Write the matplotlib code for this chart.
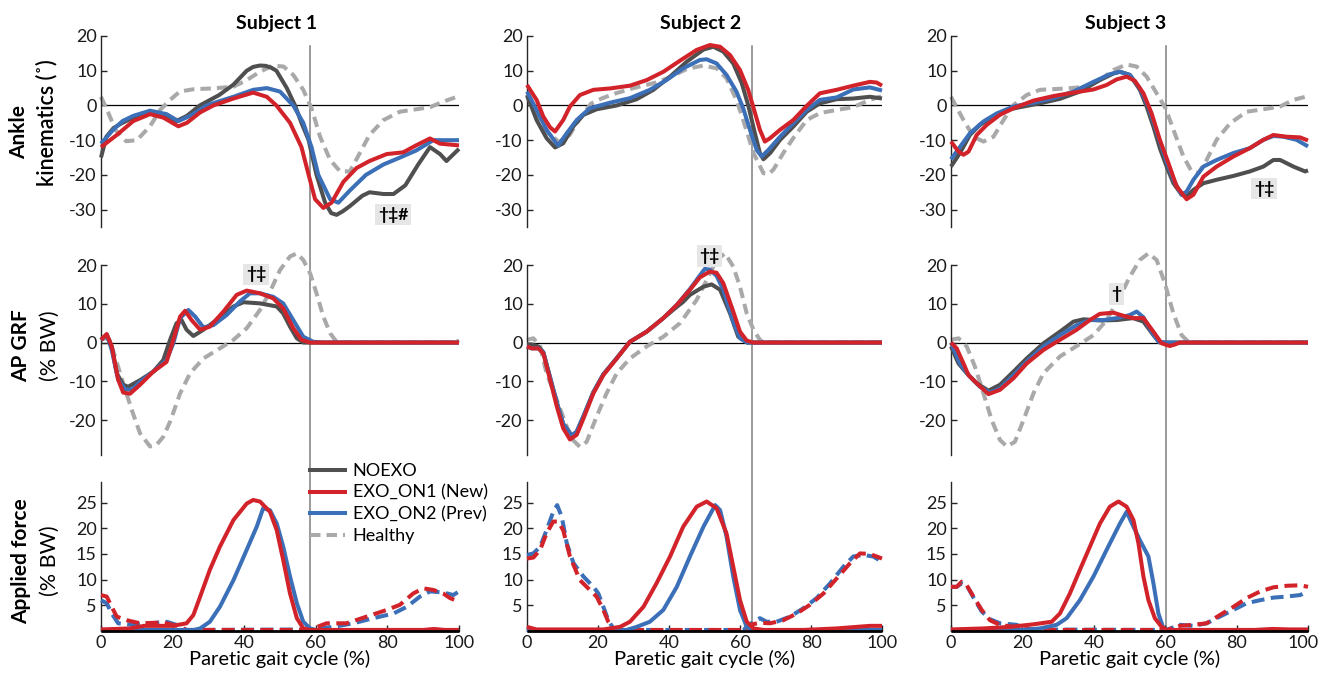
import matplotlib
matplotlib.use("Agg")
import matplotlib.pyplot as plt
from matplotlib.lines import Line2D
import matplotlib.transforms as mtransforms

plt.rcParams['font.family'] = ['Lato', 'DejaVu Sans']
plt.rcParams['axes.unicode_minus'] = False

# ---------------- data ----------------
subjects = ['Subject 1', 'Subject 2', 'Subject 3']
event_pct = [58.5, 63.5, 60.1]          # paretic toe-off (vertical line)
legend_labels = ['NOEXO', 'EXO_ON1 (New)', 'EXO_ON2 (Prev)', 'Healthy']
row_labels_bold = ['Ankle', 'AP GRF', 'Applied force']
row_labels_reg = ['kinematics (˚)', '(% BW)', '(% BW)']
xlabel = 'Paretic gait cycle (%)'
kin_ticks = [-30, -20, -10, 0, 10, 20]
grf_ticks = [-20, -10, 0, 10, 20]
force_ticks = [5, 10, 15, 20, 25]
x_ticks = [0, 20, 40, 60, 80, 100]

# --- Subject 1, ankle kinematics (deg) ---
s1_kin_healthy = [(0, 2.5), (2, -2), (4, -7), (7, -10.3), (10, -10), (13.7, -6), (16.5, -1.3), (19.3, 1.6), (22, 4),
                  (26, 4.7), (31, 4.9), (37, 5.4), (40.7, 7.3), (44.4, 9.7), (48, 11.5), (51, 11.2), (53.7, 8.8),
                  (56.5, 4.5), (58.8, -0.8), (61.2, -9), (64, -15.7), (66.8, -19), (69.5, -19), (72.3, -13.7),
                  (75, -8.5), (78.9, -4.2), (83.5, -1.8), (88, -1.1), (91.9, -0.5), (95.6, 1.1), (100, 2.7)]
s1_kin_noexo = [(0, -15), (1.5, -9), (3.5, -6.5), (6, -5), (9, -3.5), (13.7, -2), (18.3, -3), (21, -4.5), (24, -3),
                (27.6, 0), (33, 3), (37, 6), (40.7, 10), (42.5, 11.1), (44.4, 11.5), (46, 11.4), (47.5, 10.9),
                (49, 10), (51.9, 5), (54.2, 0), (56, -5), (58, -10), (60.2, -20), (62.6, -28), (64.3, -31),
                (65.8, -31.5), (67.5, -30.5), (69.5, -29), (73, -26), (75, -25), (78.9, -25.5), (81.7, -25.5),
                (85, -23), (88.6, -17), (91.9, -12), (94.7, -14), (96.5, -16), (100, -12.5)]
s1_kin_on2 = [(0, -11), (3.4, -7), (6, -4.5), (9, -3), (13.7, -1.5), (18.3, -2.5), (21.6, -4.5), (24.9, -3),
              (29.5, 0), (33, 1.2), (37, 2.5), (42.5, 4.5), (46.3, 5), (50, 4), (53.7, 0), (56.5, -5), (58.8, -12),
              (60.7, -20), (64, -27), (66.3, -28), (69.5, -24.5), (74, -20), (78.9, -17), (83.5, -15), (88, -13),
              (92.8, -10), (96, -10), (100, -10)]
s1_kin_on1 = [(0, -12), (4.4, -8.5), (9, -4.5), (13.7, -2.5), (17.4, -3.5), (21.6, -6), (24, -5), (27.7, -2),
              (31.4, 0), (37, 2), (42.5, 3.7), (46.3, 2.5), (49, 0), (52.8, -5), (56, -12), (58, -20), (59.8, -27),
              (62.1, -29.5), (64.4, -28), (67.7, -22), (71.4, -18), (75, -16), (79.8, -14), (84.4, -13.5),
              (88, -11.5), (91.9, -9.5), (94.7, -11), (100, -11.5)]

# --- Subject 2, ankle kinematics ---
s2_kin_healthy = [(0, 2.5), (3, -3), (6, -8), (9, -10.5), (12, -8.5), (15, -3.5), (18, 0.5), (21, 2), (25, 3.5),
                  (30, 5), (36, 6.5), (40, 8), (45, 10.5), (49.7, 11.5), (53.4, 10.7), (56.2, 7.8), (59, 1.6),
                  (61, -4.5), (63.8, -13.7), (66.6, -19.5), (68, -19.8), (69.4, -18.5), (72.2, -13.7), (75, -9.4),
                  (78.8, -4.2), (82.5, -2.2), (87.2, -1.3), (91.9, -0.5), (96.6, 1.6), (100, 2.7)]
s2_kin_noexo = [(0, 3), (2.7, -4.2), (5.5, -9.4), (7.9, -12.1), (10.2, -10.9), (13, -6.1), (15.9, -2.7),
                (19.6, -1.1), (25.3, 0), (30.9, 1.8), (35.6, 4.5), (40.3, 8.3), (45, 12.6), (49.7, 16.1),
                (52.5, 16.9), (55.3, 15.5), (58.1, 12.1), (60.5, 6.4), (62.3, 0.1), (64.2, -8), (65.6, -13.7),
                (66.6, -15.5), (68.5, -13.7), (71.3, -9.9), (75, -6.1), (78.8, -1.8), (82.5, 0.6), (87.2, 1.8),
                (91.9, 2), (96.6, 2.5), (100, 2)]
s2_kin_on2 = [(0, 4), (2.7, -1.3), (5.5, -7), (7.9, -10.4), (8.8, -11.5), (11.2, -8), (14, -4.2), (17.7, -0.8),
              (23.4, 0.8), (29, 2.1), (34.6, 4.5), (39.3, 7.3), (44, 10.7), (48.7, 13.1), (50.6, 13.3),
              (53.4, 12.1), (56.2, 8.8), (59, 4), (60.9, -0.8), (62.8, -7), (64.7, -12.8), (66.1, -14.7),
              (68, -12.8), (71.3, -9), (75, -5.1), (78.8, -1.3), (82.5, 1.6), (87.2, 2.3), (91.9, 4.6),
              (96.6, 5.2), (100, 4.3)]
s2_kin_on1 = [(0, 5.9), (2.7, 1.6), (4.6, -3.2), (6.5, -6.3), (7.9, -7.5), (10.2, -4.2), (12.1, -0.3), (14.9, 3),
              (18.7, 4.5), (23.4, 4.9), (29, 5.7), (33.7, 7.3), (38.4, 9.7), (43.1, 12.9), (47.8, 16), (51.5, 17.4),
              (54.4, 16.9), (57.2, 14.5), (60, 10.2), (62.3, 4.5), (63.7, -0.3), (65.6, -7), (67, -10.4),
              (68.5, -9.4), (71.3, -7), (75, -4.2), (78.8, -0.1), (82.5, 3.5), (87.2, 4.5), (91.9, 5.7),
              (96.6, 6.8), (98.5, 6.6), (100, 5.7)]

# --- Subject 3, ankle kinematics ---
s3_kin_healthy = [(0, 2.5), (3.5, -4.2), (6.3, -9), (9.1, -10.4), (11.9, -9), (14.7, -4.2), (17.5, 0.1),
                  (21.2, 3), (24.9, 4.5), (32.4, 4.9), (38, 5.4), (41.7, 7.3), (45.5, 10.2), (49.2, 11.8), (52, 11.2),
                  (54.8, 8.3), (57.6, 3.5), (60.1, -0.8), (62.3, -7), (65.1, -14.7), (67.4, -19), (69.3, -19.5),
                  (71.6, -15.7), (74.4, -9.9), (78.2, -5.1), (82.8, -1.8), (87.5, -1.1), (92.2, -0.3), (95.9, 1.6),
                  (100, 2.7)]
s3_kin_noexo = [(0, -17.6), (2.5, -13.7), (5.3, -8.5), (8.1, -5.6), (11.9, -3.2), (15.6, -1.3), (19.3, -0.5),
                (24.9, 0.6), (30.5, 1.9), (36.1, 4), (41.7, 7.3), (45.5, 9.2), (47.3, 9.7), (50.1, 8.8), (52.9, 4.5),
                (54.8, -0.3), (56.7, -6.1), (58.5, -12.3), (60.4, -17.6), (62.3, -22.4), (64.6, -25.7), (66, -26.2),
                (67.9, -24.3), (70.7, -22.4), (74.4, -21.4), (79.1, -20.3), (83.7, -19), (87.5, -17.6),
                (90.3, -15.7), (92.2, -15.7), (95.9, -17.6), (99.2, -19), (100, -18.7)]
s3_kin_on2 = [(0, -15.5), (5.3, -8), (9.1, -4.6), (12.8, -2.3), (17.5, -0.3), (23.1, 0.8), (28.7, 2.1), (34.3, 4),
              (39.9, 6.8), (44.5, 9), (47.3, 9.7), (50.1, 8.8), (52.9, 4.9), (55.3, -0.3), (57.6, -7.5),
              (59.9, -14.7), (62.3, -21.4), (64.6, -25.7), (66, -24.8), (67.9, -21.4), (70.7, -17.6), (74.4, -15.7),
              (79.1, -13.7), (83.7, -12.3), (87.5, -9.9), (90.3, -8.8), (93.1, -9), (96.8, -9.9), (100, -11.8)]
s3_kin_on1 = [(0, -10.4), (2.1, -13.3), (3.5, -14.2), (4.9, -13.3), (7.2, -8.5), (10, -5.6), (13.7, -2.7),
              (17.5, -0.8), (23.1, 1.4), (28.7, 2.7), (34.3, 3.7), (39.9, 4.6), (43.6, 5.9), (46.4, 7.5),
              (49.2, 8.3), (51.5, 7.1), (53.9, 3.5), (56.2, -2.3), (58.5, -9.9), (60.9, -16.6), (63.2, -23.3),
              (66, -27), (67.9, -25.7), (70.7, -20.5), (74.4, -17.6), (79.1, -14.7), (83.7, -12.3), (87.5, -9.9),
              (90.3, -8.5), (94, -9), (97.8, -9.2), (100, -10.1)]

# --- Subject 1, AP GRF (% BW) ---
s1_grf_healthy = [(0, 0.7), (1.6, 1.2), (2.5, 0.5), (3.9, -3.6), (6.2, -10.5), (8.6, -17.4), (10.9, -23.4),
                  (13.7, -26.8), (15.5, -26.4), (17.4, -24.3), (19.3, -20.4), (22.1, -13.1), (24.9, -7.9),
                  (28.6, -4.1), (33.2, -1.5), (37, 0.7), (40.7, 3.7), (44.4, 8.4), (47.2, 13.1), (50, 18.7),
                  (52.8, 22.2), (54.7, 23), (56.5, 21.3), (58.4, 17.9), (60.2, 12.7), (62.1, 6.7), (64, 2.4),
                  (65.8, 0.2), (67.7, 0), (99, 0), (100, 0.6)]
s1_grf_noexo = [(0, 0.7), (1.6, 2), (3, -1), (4.4, -7.9), (6.2, -10.9), (7.6, -11.4), (10.9, -9.7), (14.6, -7.5),
                (17.4, -4.5), (19.3, 0.7), (21.1, 5), (22.5, 5.8), (23.9, 3.3), (25.8, 1.7), (28.6, 3.3),
                (32.3, 5.8), (37, 9.3), (39.8, 10.4), (44.4, 10.1), (49.1, 9.3), (50.9, 7.5), (52.8, 4.1),
                (54.7, 1.1), (56.5, 0), (100, 0)]
s1_grf_on2 = [(0, 0.7), (1.6, 2), (3, -1.9), (4.8, -9.6), (6.7, -12), (8.6, -12.2), (10.9, -10.1), (14.6, -7.5),
              (18.3, -4.5), (20.2, -0.2), (22.1, 6.3), (24.4, 8.4), (26.3, 6.7), (28.6, 3.9), (31.4, 4.5),
              (35.1, 7.1), (38.8, 10.6), (41.6, 12.7), (44.4, 12.7), (48.1, 11.8), (50.9, 10.1), (53.7, 5.8),
              (56.5, 1.5), (59.3, 0.2), (62.1, 0), (100, 0)]
s1_grf_on1 = [(0, 0.7), (1.6, 2.2), (3, -1), (4.8, -9.6), (6.2, -12.9), (8.1, -13.2), (10.9, -10.9), (14.6, -7.5),
              (18.3, -5), (20.2, 0.7), (22.1, 6.7), (23.5, 8.2), (25.3, 5.8), (27.7, 3.3), (30.4, 4.1), (34.2, 8),
              (37.9, 12.3), (40.7, 13.4), (44.4, 12.7), (48.1, 11.4), (50.9, 8.8), (53.7, 3.7), (56, 0.7),
              (58.4, 0), (100, 0)]

# --- Subject 2, AP GRF ---
s2_grf_healthy = [(0, 0.7), (1.8, 1.1), (3.7, -1), (5.5, -7.9), (8.4, -14.8), (11.2, -21.7), (13, -25.2),
                  (14.9, -26.9), (16.8, -25.6), (19.6, -19.1), (22.4, -13.1), (25.3, -7.9), (29, -4.1),
                  (33.7, -1), (38.4, 1.5), (43.1, 5), (47.8, 11), (50.6, 16.1), (53.4, 21.3), (55.8, 23),
                  (58.1, 19.6), (60, 14.4), (61.9, 7.5), (63.8, 3.3), (65.6, 0.7), (66.6, 0), (99, 0), (100, 0.6)]
s2_grf_noexo = [(0, -0.5), (1.3, -0.5), (3.2, -1), (4.6, -2.5), (6.5, -9), (8.4, -15.5), (10.2, -21), (12.6, -24),
                (14, -23), (15.9, -19), (18.7, -12.8), (21.5, -8.2), (25.3, -4), (29, 0.2), (33.7, 2.8),
                (38.4, 6.3), (42.2, 9.2), (44, 10.5), (45.9, 12.3), (49.7, 14.4), (52, 15), (54.4, 13.6),
                (57.2, 7.5), (59.5, 1.5), (62, 0), (100, 0)]
s2_grf_on2 = [(0, -1), (1.3, -1.5), (3.2, -1.5), (4.6, -2.5), (6.5, -9), (8.4, -15.5), (10.2, -21), (12.6, -24),
              (14, -23), (15.9, -19), (18.7, -12.8), (21.5, -8.2), (25.3, -4), (29, 0.2), (33.7, 2.8), (38.4, 6.3),
              (42.2, 9.7), (45.9, 13.8), (48.7, 17.3), (50.1, 19), (51.5, 18.8), (53.4, 17.2), (55.3, 13.6),
              (58.1, 5.4), (60, 1.1), (62, 0), (100, 0)]
s2_grf_on1 = [(0, -1), (1.3, -1.5), (3.2, -1.5), (4.6, -2.8), (6.5, -9.6), (8.4, -16.5), (10.2, -22.1),
              (12.1, -25), (14, -23.8), (15.9, -19.6), (18.7, -13.1), (21.5, -8.4), (25.3, -4.1), (29, 0.2),
              (33.7, 2.8), (38.4, 6.3), (42.2, 9.7), (45.9, 13.6), (48.7, 16.8), (51.5, 18.3), (53.4, 18),
              (55.3, 15.3), (58.1, 8), (60, 2.8), (61.9, 0.5), (63.8, 0), (100, 0)]

# --- Subject 3, AP GRF ---
s3_grf_healthy = [(0, 0.7), (2.1, 1.1), (4.4, -1), (6.7, -6.2), (9.1, -13.1), (11.4, -20), (13.7, -25.1),
                  (15.6, -26.8), (17.9, -25.6), (20.3, -20), (23.1, -13.1), (25.9, -7.9), (30.5, -3.6),
                  (35.2, -0.9), (39.9, 1.9), (43.6, 5.8), (47.3, 11.8), (50.1, 17), (52.9, 21.3), (55.3, 23),
                  (57.6, 21.3), (59.9, 15.3), (62.3, 7.5), (64.6, 1.9), (66.5, 0.2), (67.9, 0), (99, 0), (100, 0.6)]
s3_grf_noexo = [(0, -1), (2.1, -5.4), (4.4, -7.9), (7.2, -10.5), (10.5, -12.4), (13.7, -10.9), (17.5, -7.5),
                (21.2, -4.1), (25.9, -0.2), (30.5, 2.8), (34.3, 5.4), (37.1, 6), (41.7, 5.7), (46.4, 5.8),
                (51, 6.3), (53.9, 5.4), (56.7, 1.9), (58.5, 0), (100, 0)]
s3_grf_on2 = [(0, 0), (2.5, -5.4), (5.3, -8.8), (8.1, -11.4), (10.9, -12.9), (13.7, -11.8), (17.5, -8.4),
              (21.2, -4.9), (25.9, -1), (30.5, 1.9), (35.2, 4.5), (38.9, 5.8), (42.7, 5.8), (46.4, 6.3),
              (50.1, 7.1), (52, 8), (53.9, 6.5), (56.2, 2.8), (58.1, 0.2), (60.4, 0), (100, 0)]
s3_grf_on1 = [(0, 0), (1.6, -1.5), (3.5, -5.4), (4.9, -8.4), (7.2, -10.5), (10.5, -13.3), (13.7, -12.2),
              (17.5, -9.2), (21.2, -5.4), (25.9, -1.9), (30.5, 0.7), (35.2, 3.3), (38.9, 5.8), (41.7, 7.4),
              (45.5, 7.7), (48.3, 6.9), (51, 6.3), (53.9, 6.3), (56.7, 2.8), (59, -0.2), (61.3, -0.9),
              (62.7, -0.5), (64.1, 0), (100, 0)]

# --- Applied force (% BW): paretic (solid) and non-paretic (dashed) ---
force_noexo = [(0, 0), (100, 0)]
s1_force_on1 = [(0, 0.3), (8, 0.5), (12, 1), (20, 1), (23.9, 1.5), (25.8, 3.1), (27.7, 6.7), (30.4, 11.9),
                (33.2, 16.4), (37, 21.6), (40.7, 24.8), (42.5, 25.5), (44.4, 25.2), (47.2, 23.2), (49.1, 19.6),
                (50.9, 13.8), (52.8, 7.3), (54.7, 2.5), (56.5, 0.5), (58.4, 0.2), (90, 0.2), (93, 0.4), (96, 0.2),
                (100, 0.2)]
s1_force_on2 = [(0, 0.2), (26, 0.2), (27.7, 0.5), (30.4, 1.8), (33.2, 4.7), (37, 9.9), (40.7, 15.8), (43.5, 20.3),
                (45.3, 23.9), (47.2, 23.5), (49.1, 20.9), (50.9, 16.4), (52.8, 10.6), (54.7, 5.4), (56.5, 1.8),
                (58.4, 0.5), (60, 0.2), (100, 0.2)]
s1_force_on1_np = [(0, 7), (1.6, 6.7), (3, 4.7), (4.4, 2.8), (7.2, 2.1), (10.9, 1.5), (15.5, 1.6), (18.3, 1.5),
                   (21.1, 1), (23.9, 0.2), (58.4, 0.2), (60, 0.7), (63, 1.5), (68.6, 1.5), (74.2, 2.8), (79.8, 4.1),
                   (83.5, 5.1), (87.2, 7.3), (90, 8.3), (92.8, 8), (95.6, 7.3), (97.5, 6.4), (100, 5.7)]
s1_force_on2_np = [(0, 6), (1.6, 5.4), (3, 3.4), (4.8, 1.5), (9, 1.2), (13.7, 1.5), (18.3, 1.8), (21.1, 1.2),
                   (23.9, 0.2), (58.4, 0.3), (64.9, 0.8), (70.5, 1.5), (76.1, 2.5), (81.7, 3.4), (85.4, 4.7),
                   (89.1, 6.7), (91.9, 7.7), (95.6, 7.5), (98.4, 7), (100, 7.7)]

s2_force_on1 = [(0, 0.8), (2.7, 0.3), (21.5, 0.3), (26.2, 0.8), (29, 1.8), (32.8, 4.7), (36.5, 9.3), (40.3, 14.5),
                (44, 20.3), (47.8, 24.2), (50.6, 25.2), (53.4, 23.9), (56.2, 19), (58.1, 12.5), (60, 6), (61.9, 1.8),
                (63.8, 0.5), (66.6, 0.2), (77.8, 0.2), (87.2, 0.5), (96.6, 1), (100, 1)]
s2_force_on2 = [(0, 0.2), (28, 0.2), (30.9, 0.8), (34.6, 1.8), (38.4, 4.1), (42.2, 8.6), (45.9, 14.5),
                (49.7, 20.3), (53, 24.5), (54.4, 23.5), (56.2, 18.4), (58.1, 10.6), (60, 4.1), (61.9, 0.8),
                (63.8, 0.2), (100, 0.2)]
s2_force_on1_np = [(0, 14.1), (1.8, 14.3), (3.7, 15.8), (5.5, 19), (7.4, 21.3), (8.8, 21.3), (10.2, 19.6),
                   (12.1, 14.5), (14.9, 9.9), (17.7, 8), (19.6, 6.7), (21.5, 4.1), (22.9, 1.8), (24.3, 0.5),
                   (26, 0.2), (62, 0.2), (62.8, 1.2), (65.6, 1.6), (68.5, 1.5), (72.2, 2.1), (76, 3.4), (79.7, 5.1),
                   (83.5, 7.3), (87.2, 10.2), (91, 13.2), (93.8, 15.1), (96.6, 15), (100, 14.1)]
s2_force_on2_np = [(0, 14.8), (1.8, 15.1), (3.7, 16.4), (5.5, 19.6), (7.4, 23.2), (8.5, 24.5), (9.8, 22.2),
                   (11.2, 17.1), (13.1, 13.2), (15.9, 10.6), (18.7, 8.6), (20.1, 7.3), (21.5, 4.7), (22.9, 2.1),
                   (24.3, 0.5), (26.2, 0.2), (61, 0.2), (61.9, 0.8), (63.8, 1.8), (65.6, 2.5), (67.5, 1.8),
                   (70.3, 1.8), (74.1, 2.8), (77.8, 4.4), (81.6, 6.4), (85.4, 9.3), (89.1, 12.5), (91.9, 14.5),
                   (94.7, 14.8), (97.5, 14.5), (100, 13.5)]

s3_force_on1 = [(0, 0.3), (9.1, 0.5), (16.5, 0.8), (23.1, 1.3), (28.2, 1.8), (30.5, 3.4), (33.3, 7.3),
                (36.1, 11.9), (38.9, 16.4), (41.7, 20.9), (44.5, 24.2), (46.9, 25.2), (49.2, 24.2), (51.1, 21.6),
                (52.5, 17.1), (53.9, 10.6), (55.3, 6), (57.1, 2.5), (59, 0.8), (60.4, 0.2), (85, 0.2), (90, 0.4),
                (95, 0.3), (100, 0.3)]
s3_force_on2 = [(0, 0.2), (20, 0.2), (24.9, 0.5), (29.6, 1.2), (32.4, 2.5), (36.1, 6), (39.9, 10.6), (43.6, 15.8),
                (47.3, 20.9), (49.2, 23.2), (51.1, 20.3), (52.9, 17.7), (55.3, 14.5), (56.7, 9.3), (58.1, 3.4),
                (59.5, 0.5), (60.9, 0.2), (100, 0.2)]
s3_force_on1_np = [(0, 8.6), (1.6, 8.6), (3, 9.6), (4.4, 8.9), (6.3, 6.7), (8.6, 4.1), (10.9, 2.1), (13.7, 1.2),
                   (17.5, 0.8), (21.2, 0.5), (23, 0.2), (60.4, 0.2), (64.1, 1), (67.9, 1.2), (71.6, 1.5),
                   (75.3, 3.1), (79.1, 4.7), (82.8, 6.4), (86.6, 7.7), (90.3, 8.5), (94, 8.8), (97.8, 8.9),
                   (100, 8.6)]
s3_force_on2_np = [(0, 8.6), (1.6, 8.6), (3, 9.3), (4.4, 8.9), (6.3, 6.5), (8.6, 3.8), (10.9, 2.3), (13.7, 1.5),
                   (18.4, 1.2), (21.2, 0.3), (60.4, 0.2), (64.1, 1.2), (67.9, 1), (71.6, 1.5), (75.3, 2.8),
                   (79.1, 4.1), (82.8, 5.4), (86.6, 6), (90.3, 6.5), (94, 6.7), (97.8, 7), (100, 7.7)]

# significance annotations: (row, col, x, y, text)
annotations = [(0, 0, 81.6, -31.5, '†‡#'), (0, 2, 87.7, -24.0, '†‡'),
               (1, 0, 43.3, 17.6, '†‡'), (1, 1, 51.4, 22.3, '†‡'), (1, 2, 46.4, 12.5, '†')]

kin = [(s1_kin_healthy, s1_kin_noexo, s1_kin_on2, s1_kin_on1),
       (s2_kin_healthy, s2_kin_noexo, s2_kin_on2, s2_kin_on1),
       (s3_kin_healthy, s3_kin_noexo, s3_kin_on2, s3_kin_on1)]
grf = [(s1_grf_healthy, s1_grf_noexo, s1_grf_on2, s1_grf_on1),
       (s2_grf_healthy, s2_grf_noexo, s2_grf_on2, s2_grf_on1),
       (s3_grf_healthy, s3_grf_noexo, s3_grf_on2, s3_grf_on1)]
force = [(s1_force_on1, s1_force_on2, s1_force_on1_np, s1_force_on2_np),
         (s2_force_on1, s2_force_on2, s2_force_on1_np, s2_force_on2_np),
         (s3_force_on1, s3_force_on2, s3_force_on1_np, s3_force_on2_np)]

# ---------------- style ----------------
C_NOEXO = '#4f4f4f'
C_ON1 = '#d2232a'
C_ON2 = '#3b6fb8'
C_HEALTHY = '#a9a9a9'
LW = 2.9
W, H = 1320, 673

fig = plt.figure(figsize=(W / 100, H / 100), dpi=100)

col_left = [101, 527, 951]
col_width = [358, 355, 357]
row_top = [36, 265, 482]
row_bot = [227, 455, 631]
ylims = [(-35, 20), (-29, 20), (0, 29)]


def line(ax, pts, color, dashed=False, lw=LW, z=3, dash=(2.6, 1.5)):
    xs = [p[0] for p in pts]
    ys = [p[1] for p in pts]
    kw = dict(color=color, lw=lw, clip_on=False, zorder=z,
              solid_capstyle='butt', solid_joinstyle='round', dash_joinstyle='round')
    if dashed:
        kw['linestyle'] = (0, dash)
    return ax.plot(xs, ys, **kw)[0]


axes = [[None] * 3 for _ in range(3)]
for r in range(3):
    for c in range(3):
        ax = fig.add_axes([col_left[c] / W, 1 - row_bot[r] / H, col_width[c] / W, (row_bot[r] - row_top[r]) / H])
        axes[r][c] = ax
        ax.set_xlim(0, 100)
        ax.set_ylim(*ylims[r])
        ax.patch.set_alpha(0)
        for s in ['top', 'right']:
            ax.spines[s].set_visible(False)
        ax.spines['left'].set_color('#262626')
        ax.spines['left'].set_linewidth(1.0)
        ax.tick_params(axis='both', direction='in', length=4.5, width=1.0, labelsize=13, colors='#262626',
                       labelcolor='#1a1a1a', pad=3)
        if r < 2:
            ax.spines['bottom'].set_visible(False)
            ax.set_xticks([])
            ax.plot([0, 100], [0, 0], color='black', lw=0.9, zorder=1)
            ax.set_yticks(kin_ticks if r == 0 else grf_ticks)
            h, n, b, rd = kin[c] if r == 0 else grf[c]
            line(ax, h, C_HEALTHY, dashed=True, z=2)
            line(ax, n, C_NOEXO, z=3)
            line(ax, b, C_ON2, z=4)
            line(ax, rd, C_ON1, z=5)
        else:
            ax.spines['bottom'].set_color('black')
            ax.set_yticks(force_ticks)
            ax.set_xticks(x_ticks)
            ax.set_xlabel(xlabel, fontsize=14.5, labelpad=-1)
            on1, on2, on1np, on2np = force[c]
            line(ax, on2np, C_ON2, dashed=True, z=3, dash=(3.2, 1.6))
            line(ax, on1np, C_ON1, dashed=True, z=4, dash=(3.2, 1.6))
            line(ax, on2, C_ON2, z=5)
            line(ax, on1, C_ON1, z=6)
            line(ax, force_noexo, 'black', lw=2.0, z=7)

# keep the last "100" label of the right-most panel inside the canvas
last_lbl = axes[2][2].get_xticklabels()[-1]
last_lbl.set_horizontalalignment('right')
last_lbl.set_transform(last_lbl.get_transform() +
                       mtransforms.ScaledTranslation(11 / 100, 0, fig.dpi_scale_trans))

for c in range(3):
    axes[0][c].text(0.49, (H - 23) / H, subjects[c], transform=mtransforms.blended_transform_factory(
        axes[0][c].transAxes, fig.transFigure), ha='center', va='center', fontsize=14, fontweight='bold')
    # vertical event line spanning all rows
    tr = mtransforms.blended_transform_factory(axes[2][c].transData, fig.transFigure)
    fig.add_artist(Line2D([event_pct[c], event_pct[c]], [1 - 46 / H, 1 - 631 / H], transform=tr,
                          color='#7f7f7f', lw=1.1, zorder=0))

for (r, c, x, y, t) in annotations:
    axes[r][c].text(x, y, t, ha='center', va='center', fontsize=12.5, fontweight='bold', zorder=10,
                    bbox=dict(facecolor='#e6e6e6', edgecolor='none', boxstyle='square,pad=0.15'))

# row labels
label_pos = [((19, 132), (47, 123)), ((21, 346), (50, 346)), ((21, 561), (50, 561))]
for r in range(3):
    (bx, by), (rx, ry) = label_pos[r]
    fig.text(bx / W, 1 - by / H, row_labels_bold[r], rotation=90, ha='center', va='center',
             fontsize=15, fontweight='bold')
    fig.text(rx / W, 1 - ry / H, row_labels_reg[r], rotation=90, ha='center', va='center',
             fontsize=15.5, fontweight='semibold' if r == 0 else 'normal')

# legend
handles = [Line2D([], [], color=C_NOEXO, lw=LW),
           Line2D([], [], color=C_ON1, lw=LW),
           Line2D([], [], color=C_ON2, lw=LW),
           Line2D([], [], color=C_HEALTHY, lw=LW, linestyle=(0, (2.6, 1.5)))]
axes[2][0].legend(handles, legend_labels, loc='upper left', bbox_to_anchor=(0.585, 1.125), frameon=False,
                  fontsize=13, handlelength=1.9, handletextpad=0.45, labelspacing=0.3, borderpad=0,
                  borderaxespad=0)

fig.savefig('out.png', dpi=100)
